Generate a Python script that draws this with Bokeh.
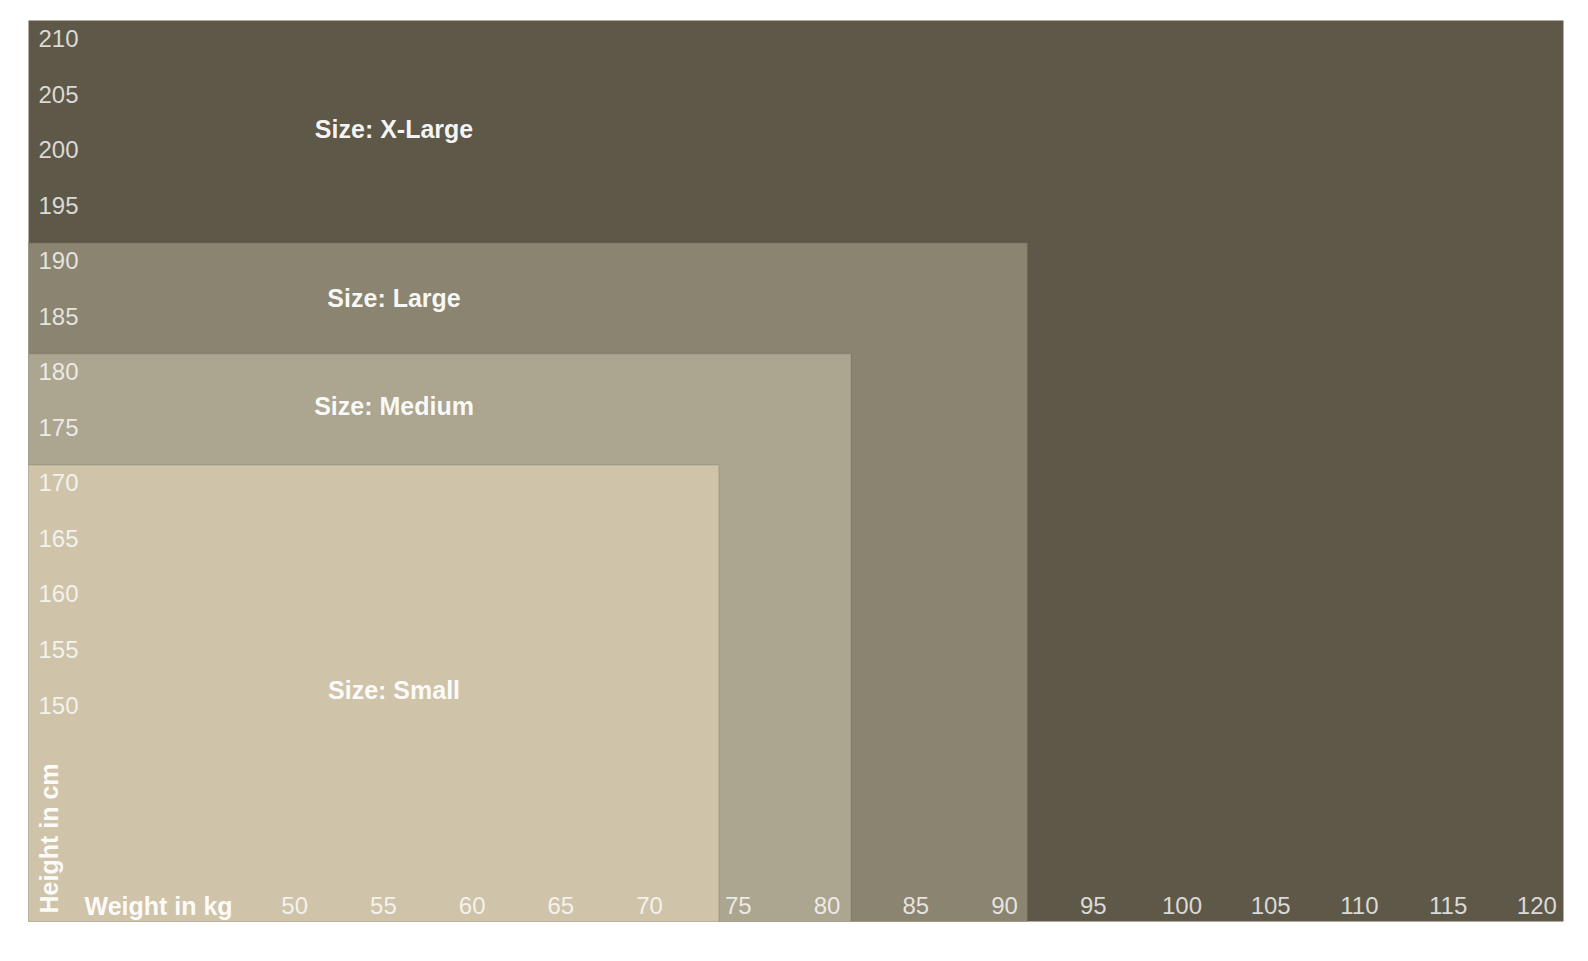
from bokeh.plotting import figure
from bokeh.models import Range1d, Label
from bokeh.core.properties import value
from bokeh.embed import file_html
from bokeh.resources import INLINE

# ---- data ----
sizes = ["Size: Small", "Size: Medium", "Size: Large", "Size: X-Large"]
max_weight = [73.9, 81.35, 91.3, 125.0]      # kg
max_height = [170, 180, 190, 215]            # cm
label_weight = [55.6, 55.6, 55.6, 55.6]
label_height = [149.7, 175.3, 185.0, 200.2]
colors = ["#cfc4a9", "#aca58f", "#8a8470", "#5e5848"]

x_ticks = [50, 55, 60, 65, 70, 75, 80, 85, 90, 95, 100, 105, 110, 115, 120]
y_ticks = [150, 155, 160, 165, 170, 175, 180, 185, 190, 195, 200, 205, 210]

X0, X1 = 35.0, 121.5
Y0, Y1 = 128.9, 210.0

FONT = "Liberation Sans"

p = figure(width=1588, height=961, output_backend="svg", toolbar_location=None,
           x_range=Range1d(X0, X1), y_range=Range1d(Y0, Y1),
           min_border_left=28, min_border_right=25, min_border_top=20, min_border_bottom=40)
p.xaxis.visible = False
p.yaxis.visible = False
p.grid.visible = False
p.outline_line_color = None
p.background_fill_color = "#ffffff"
p.border_fill_color = "#ffffff"

# draw largest first
for i in reversed(range(len(sizes))):
    p.quad(left=X0 - 5, right=max_weight[i], bottom=Y0 - 5, top=max_height[i],
           fill_color=colors[i], line_color="#000000", line_alpha=0.06, line_width=2)

# size labels
p.text(x=label_weight, y=label_height, text=sizes, text_font=value(FONT),
       text_font_size="25px", text_font_style="bold", text_color="#ffffff",
       text_align="center", text_baseline="middle", text_alpha=0.95)

# y tick labels (drawn below their tick)
p.text(x=[X0] * len(y_ticks), y=y_ticks, text=[str(v) for v in y_ticks],
       text_font=value(FONT), text_font_size="24px", text_color="#ffffff",
       text_alpha=0.78, text_align="left", text_baseline="middle",
       x_offset=10, y_offset=18)

# x tick labels
p.text(x=x_ticks, y=[Y0] * len(x_ticks), text=[str(v) for v in x_ticks],
       text_font=value(FONT), text_font_size="24px", text_color="#ffffff",
       text_alpha=0.78, text_align="center", text_baseline="middle",
       y_offset=-16)

# axis titles
p.add_layout(Label(x=56, y=16, x_units="screen", y_units="screen", text="Weight in kg",
                   text_font=FONT, text_font_size="25px", text_font_style="bold",
                   text_color="#ffffff", text_alpha=0.95, text_baseline="middle"))
p.add_layout(Label(x=20, y=8, x_units="screen", y_units="screen", text="Height in cm",
                   angle=90, angle_units="deg",
                   text_font=FONT, text_font_size="25px", text_font_style="bold",
                   text_color="#ffffff", text_alpha=0.95, text_baseline="middle"))

open("out.html", "w").write(file_html(p, INLINE))
